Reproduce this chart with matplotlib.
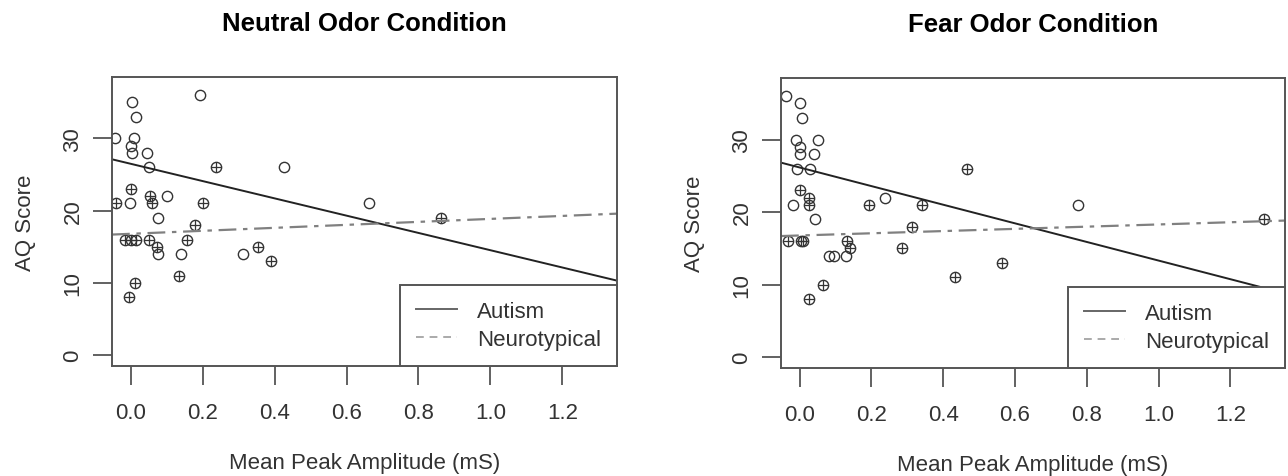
import matplotlib
matplotlib.use("Agg")
import matplotlib.pyplot as plt
from matplotlib.lines import Line2D

plt.rcParams['font.family'] = ['Liberation Sans', 'DejaVu Sans']

titles = ["Neutral Odor Condition", "Fear Odor Condition"]
x_label = "Mean Peak Amplitude (mS)"
y_label = "AQ Score"
x_ticks = [0.0, 0.2, 0.4, 0.6, 0.8, 1.0, 1.2]
y_ticks = [0, 10, 20, 30]
legend_labels = ["Autism", "Neurotypical"]

# Neutral odor condition
neutral_asd_x = [0.003, 0.015, -0.044, 0.010, 0.000, 0.003, 0.045, 0.051, 0.193,
                 0.425, -0.002, 0.100, 0.075, 0.077, 0.139, 0.312, 0.662]
neutral_asd_y = [35, 33, 30, 30, 29, 28, 28, 26, 36,
                 26, 21, 22, 19, 14, 14, 14, 21]
neutral_nt_x = [-0.041, 0.000, 0.054, 0.058, 0.238, 0.202, 0.179, -0.016, 0.001,
                0.014, 0.052, 0.074, 0.156, 0.133, 0.353, 0.391, 0.012, -0.004, 0.864]
neutral_nt_y = [21, 23, 22, 21, 26, 21, 18, 16, 16,
                16, 16, 15, 16, 11, 15, 13, 10, 8, 19]
neutral_fit_asd = (26.48, -11.95)   # intercept, slope
neutral_fit_nt = (16.80, 2.06)

# Fear odor condition
fear_asd_x = [-0.037, 0.002, 0.007, -0.009, 0.051, 0.000, 0.000, 0.039, -0.007,
              0.028, -0.019, 0.239, 0.042, 0.081, 0.095, 0.130, 0.775]
fear_asd_y = [36, 35, 33, 30, 30, 29, 28, 28, 26,
              26, 21, 22, 19, 14, 14, 14, 21]
fear_nt_x = [0.000, 0.025, 0.025, 0.194, 0.342, 0.467, 0.312, -0.032, 0.004,
             0.009, 0.132, 0.141, 0.286, 0.563, 0.433, 0.065, 0.026, 1.294]
fear_nt_y = [23, 22, 21, 21, 21, 26, 18, 16, 16,
             16, 16, 15, 15, 13, 11, 10, 8, 19]
fear_fit_asd = (26.15, -12.83)
fear_fit_nt = (16.78, 1.52)

panels = [
    (neutral_asd_x, neutral_asd_y, neutral_nt_x, neutral_nt_y, neutral_fit_asd, neutral_fit_nt),
    (fear_asd_x, fear_asd_y, fear_nt_x, fear_nt_y, fear_fit_asd, fear_fit_nt),
]

W, H = 1288, 477
fig = plt.figure(figsize=(W / 100, H / 100), dpi=100)
boxes = [(112, 78, 617, 367), (781, 79, 1285, 369)]

pt_color = '#333333'
spine_color = '#555555'
text_color = '#333333'
ms = 7.4
fs = 16

for i, (box, data) in enumerate(zip(boxes, panels)):
    x0, y0, x1, y1 = box
    ax = fig.add_axes([x0 / W, 1 - y1 / H, (x1 - x0) / W, (y1 - y0) / H])
    ax_x, ax_y, nt_x, nt_y, fa, fn = data

    ax.plot(ax_x, ax_y, linestyle='none', marker='o', markersize=ms,
            markerfacecolor='none', markeredgecolor=pt_color, markeredgewidth=1.0)
    ax.plot(nt_x, nt_y, linestyle='none', marker='o', markersize=ms,
            markerfacecolor='none', markeredgecolor=pt_color, markeredgewidth=1.0)
    ax.plot(nt_x, nt_y, linestyle='none', marker='+', markersize=ms,
            markeredgecolor=pt_color, markeredgewidth=0.9)

    ax.axline((0, fa[0]), slope=fa[1], color='#222222', lw=1.4, linestyle='-')
    ax.axline((0, fn[0]), slope=fn[1], color='#808080', lw=1.6,
              linestyle=(0, (8, 3, 2, 3)))

    ax.set_xlim(-0.052, 1.352)
    ax.set_ylim(-1.48, 38.48)
    ax.set_xticks(x_ticks)
    ax.set_xticklabels([f"{t:.1f}" for t in x_ticks])
    ax.set_yticks(y_ticks)
    ax.set_yticklabels([str(t) for t in y_ticks], rotation=90, va='center')
    ax.tick_params(axis='both', direction='out', length=14, width=1.3,
                   color=spine_color, labelsize=fs, labelcolor=text_color)
    ax.tick_params(axis='x', pad=12)
    ax.tick_params(axis='y', pad=6.5)
    for s in ax.spines.values():
        s.set_color(spine_color)
        s.set_linewidth(1.4)

    ax.set_xlabel(x_label, fontsize=fs, color=text_color, labelpad=21)
    ax.set_ylabel(y_label, fontsize=fs, color=text_color, labelpad=19)
    ax.set_title(titles[i], fontsize=18.5, fontweight='bold', pad=34)

    handles = [Line2D([], [], color='#666666', lw=1.4, linestyle='-'),
               Line2D([], [], color='#aaaaaa', lw=1.4, linestyle=(0, (4, 3)))]
    leg = ax.legend(handles, legend_labels, loc='lower right', borderaxespad=0,
                    fancybox=False, framealpha=1, edgecolor=spine_color,
                    fontsize=fs, handlelength=1.85, handletextpad=0.9,
                    borderpad=0.72, labelspacing=0.32)
    leg.get_frame().set_linewidth(1.4)
    for t in leg.get_texts():
        t.set_color(text_color)

fig.savefig("out.png", dpi=100)
